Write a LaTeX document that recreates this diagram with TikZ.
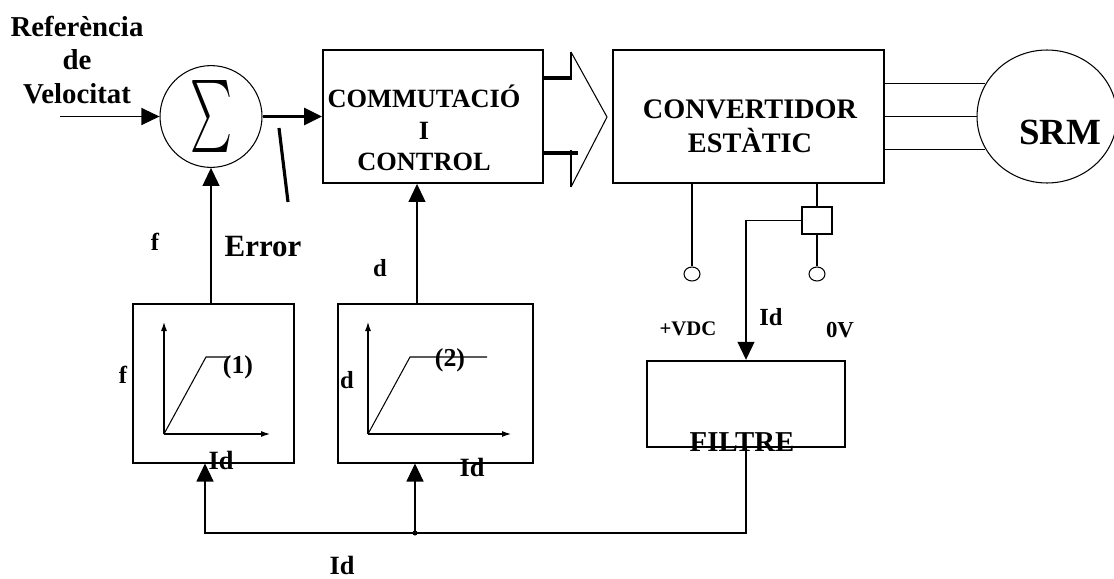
\documentclass[tikz,border=0pt]{standalone}
\usepackage{fontspec}
\setmainfont{Liberation Serif}
\usetikzlibrary{arrows.meta, positioning, shapes.geometric, calc}

\tikzset{
  block/.style={draw, line width=1.1pt, inner sep=0pt},
  graphbox/.style={draw, line width=0.6pt, inner sep=0pt, minimum height=3.18cm},
  term/.style={draw, ellipse, line width=0.6pt, inner sep=0pt, minimum width=0.32cm, minimum height=0.28cm},
  lbl/.style={inner sep=0pt, font=\bfseries\fontsize{#1}{#1}\selectfont},
  lbl/.default=15,
  wire/.style={line width=0.6pt},
  sig/.style={-{Triangle[length=0.36cm,width=0.34cm]}, line width=0.6pt},
  heavy/.style={line width=1.8pt},
  axis/.style={-{Latex[length=0.18cm,width=0.12cm]}, line width=0.6pt},
}

\begin{document}
\begin{tikzpicture}[x=0.02cm, y=-0.02cm]
    \useasboundingbox (0,0) rectangle (1114,578);

    % main chain
    \node[block, ellipse, line width=0.6pt, minimum width=2.04cm, minimum height=1.82cm] (sum) at (211,116.5) {\resizebox{0.84cm}{1.08cm}{$\sum$}};
    \node[block, minimum width=4.4cm, minimum height=2.66cm] (commut) at (433,116.5) {};
    \node[block, minimum width=5.42cm, minimum height=2.66cm] (conv) at (748.5,116.5) {};
    \node[block, ellipse, line width=0.6pt, minimum width=2.8cm, minimum height=2.66cm] (srm) at (1047,116.5) {};
    \node[block, line width=1.4pt, minimum width=3.96cm, minimum height=1.72cm] (filtre) at (746,404) {};
    \node[graphbox, minimum width=3.22cm] (box1) at (213.5,383.5) {};
    \node[graphbox, minimum width=3.9cm] (box2) at (435.5,383.5) {};
    \node[draw, wire, inner sep=0pt, minimum width=0.6cm, minimum height=0.54cm] (shunt) at (817,220.5) {};
    \node[term] (vdc) at (692,274) {};
    \node[term] (zero) at (817,274) {};

    % texts
    \node[lbl=16.4, font=\bfseries\fontsize{16.4}{19.3}\selectfont, align=center] (ref) at (77,60) {Referència\\de\\Velocitat};
    \node[lbl, font=\bfseries\fontsize{15}{17.9}\selectfont, align=center] (commuttxt) at (424,128) {COMMUTACIÓ\\I\\CONTROL};
    \node[lbl, font=\bfseries\fontsize{16.1}{19.3}\selectfont, align=center] (convtxt) at (750,126.5) {CONVERTIDOR\\ESTÀTIC};
    \node[lbl=21] (srmtxt) at (1060,132) {SRM};
    \node[lbl=16.4] (filtretxt) at (742,442) {FILTRE};
    \node[lbl=17.6] (error) at (263,247) {Error};
    \node[lbl=14] (fsum) at (155,242) {f};
    \node[lbl=14] (dcom) at (380,268) {d};
    \node[lbl=14] (fax) at (123,375) {f};
    \node[lbl=14] (dax) at (347,380) {d};
    \node[lbl=14.7] (one) at (238,367) {(1)};
    \node[lbl=14.7] (two) at (450,360) {(2)};
    \node[lbl] (idone) at (221,460) {Id};
    \node[lbl] (idtwo) at (472,467) {Id};
    \node[lbl] (idfb) at (342,565) {Id};
    \node[lbl=14] (idfil) at (771,317) {Id};
    \node[lbl=11.8] (vdctxt) at (688,329) {+VDC};
    \node[lbl=13] (zerotxt) at (840,330) {0V};

    % reference and error
    \coordinate (refin) at (60,116.5);
    \draw[sig] (refin) -- (sum.west);
    \draw[sig, line width=1.8pt] (sum.east) -- (commut.west);
    \coordinate (errA) at (279,128);
    \coordinate (errB) at (288,202);
    \draw[heavy] (errA) -- (errB);

    % gate signals
    \coordinate (chevA) at (571,52);
    \coordinate (chevT) at (607,117);
    \coordinate (chevB) at (571,187);
    \draw[wire] (chevA) -- (chevT) -- (chevB);
    \draw[wire] (chevA) -- ++(0,28);
    \draw[wire] (chevB) -- ++(0,-37);
    \draw[heavy] ([yshift=0.77cm]commut.east) -- ([yshift=0.77cm]commut.east -| chevA);
    \draw[heavy] ([yshift=-0.73cm]commut.east) -- ++(34,0);

    % phases
    \foreach \a in {152,208}
        \draw[wire] (srm.\a -| conv.east) -- (srm.\a);
    \draw[wire] (srm.west -| conv.east) -- (srm.west);

    % dc bus and current sensor
    \draw[wire] (vdc.north |- conv.south) -- (vdc.north);
    \draw[wire] (shunt.north |- conv.south) -- (shunt.north);
    \draw[wire] (shunt.south) -- (zero.north);
    \draw[sig] (shunt.west) -| (filtre.north);

    % feedback
    \coordinate (jn) at (415,533);
    \draw[wire] (filtre.south) |- (jn);
    \draw[sig] (jn) -| ([xshift=-0.17cm]box1.south);
    \draw[sig] (jn) -- (jn |- box2.south);
    \fill (jn) circle (0.05cm);
    \draw[sig] (sum.south |- box1.north) -- (sum.south);
    \draw[sig] ([xshift=-0.37cm]box2.north) -- ([xshift=-0.37cm]box2.north |- commut.south);

    % characteristics
    \draw[axis] (164,434) -- (164,322);
    \draw[axis] (164,434) -- (270,434);
    \draw[wire] (164,434) -- (206,357) -- (230,357);
    \draw[axis] (368,434) -- (368,322);
    \draw[axis] (368,434) -- (511,434);
    \draw[wire] (368,434) -- (410,357) -- (487,357);
\end{tikzpicture}
\end{document}
